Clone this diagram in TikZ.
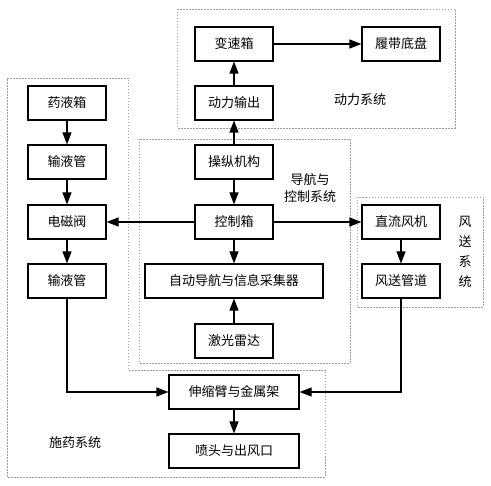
\documentclass[tikz,border=0pt]{standalone}
\usepackage{fontspec}
\setmainfont{Noto Sans CJK SC}
\usetikzlibrary{arrows.meta}

\begin{document}
\begin{tikzpicture}[
		x=1pt, y=-1pt,
		line join=miter,
		font=\fontsize{13}{15}\selectfont,
		>={Triangle[length=12pt,width=9pt]},
		block/.style={draw, line width=1.1pt, minimum width=78pt, minimum height=34pt, inner sep=0pt},
		wideblock/.style={block, minimum width=130pt},
		flow/.style={->, line width=1.1pt},
		group/.style={draw=gray!75, line width=0.5pt, dash pattern=on 1.5pt off 1.5pt},
		grouplab/.style={align=center}
	]
	
	\useasboundingbox (0,0) rectangle (491,486);
	
	% Columns
	\def\xl{67}
	\def\xc{234}
	\def\xr{401}
	
	% System frames
	\draw[group] (177,9) rectangle (455,128);
	\draw[group] (7,78) -- (128,78) -- (128,370) -- (325,370) -- (325,477) -- (7,477) -- cycle;
	\draw[group] (139,139) rectangle (350,363);
	\draw[group] (357,197) rectangle (483,307);
	
	% Power
	\node[block] (gear) at (\xc,44) {变速箱};
	\node[block] (track) at (\xr,44) {履带底盘};
	\node[block] (pto) at (\xc,103) {动力输出};
	
	% Spraying
	\node[block] (tank) at (\xl,103) {药液箱};
	\node[block] (pipea) at (\xl,162) {输液管};
	\node[block] (valve) at (\xl,222) {电磁阀};
	\node[block] (pipeb) at (\xl,281) {输液管};
	\node[wideblock] (arm) at (\xc,392) {伸缩臂与金属架};
	\node[wideblock] (nozzle) at (\xc,451) {喷头与出风口};
	
	% Navigation and control
	\node[block] (handle) at (\xc,162) {操纵机构};
	\node[block] (ctrl) at (\xc,222) {控制箱};
	\node[block, minimum width=178pt] (nav) at (\xc,281) {自动导航与信息采集器};
	\node[block] (lidar) at (\xc,341) {激光雷达};
	
	% Air supply
	\node[block] (fan) at (\xr,222) {直流风机};
	\node[block] (duct) at (\xr,281) {风送管道};
	
	% Frame labels
	\node[grouplab] (powerlab) at (360,100) {动力系统};
	\node[grouplab, font=\fontsize{13}{17}\selectfont] (navlab) at (310,188) {导航与\\控制系统};
	\node[grouplab, font=\fontsize{13}{20}\selectfont] (windlab) at (465,252) {风\\送\\系\\统};
	\node[grouplab] (spraylab) at (75,443) {施药系统};
	
	% Connectors
	\draw[flow] (gear) -- (track);
	\draw[flow] (pto) -- (gear);
	\draw[flow] (handle) -- (pto);
	\draw[flow] (handle) -- (ctrl);
	\draw[flow] (ctrl) -- (valve);
	\draw[flow] (ctrl) -- (fan);
	\draw[flow] (ctrl) -- (nav);
	\draw[flow] (lidar) -- (nav);
	\draw[flow] (tank) -- (pipea);
	\draw[flow] (pipea) -- (valve);
	\draw[flow] (valve) -- (pipeb);
	\draw[flow] (fan) -- (duct);
	\draw[flow] (pipeb) |- (arm);
	\draw[flow] (duct) |- (arm);
	\draw[flow] (arm) -- (nozzle);
	
\end{tikzpicture}
\end{document}
